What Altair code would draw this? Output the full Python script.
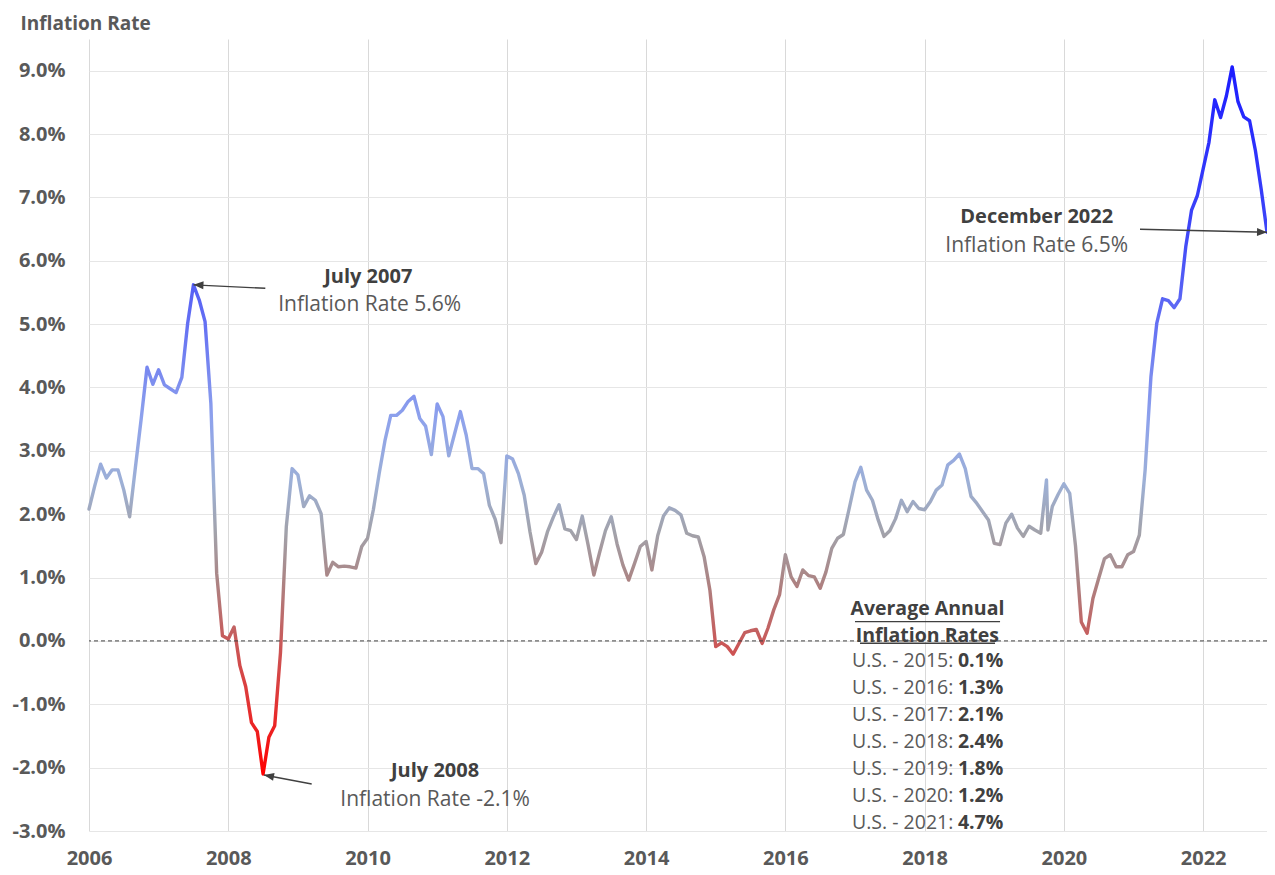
import altair as alt
import pandas as pd

# ---------------- data (monthly inflation rate, %) ----------------
years = list(range(2006, 2023))
rate_2006 = [2.08, 2.45, 2.79, 2.57, 2.70, 2.70, 2.38, 1.96, 2.74, 3.51, 4.32, 4.05]
rate_2007 = [4.28, 4.04, 3.98, 3.92, 4.16, 5.01, 5.62, 5.38, 5.04, 3.75, 1.07, 0.08]
rate_2008 = [0.03, 0.22, -0.39, -0.72, -1.29, -1.43, -2.10, -1.52, -1.34, -0.18, 1.80, 2.72]
rate_2009 = [2.62, 2.12, 2.29, 2.22, 2.01, 1.04, 1.24, 1.17, 1.18, 1.17, 1.15, 1.49]
rate_2010 = [1.62, 2.07, 2.64, 3.16, 3.56, 3.56, 3.64, 3.78, 3.86, 3.51, 3.39, 2.94]
rate_2011 = [3.74, 3.54, 2.92, 3.27, 3.62, 3.25, 2.72, 2.72, 2.64, 2.14, 1.92, 1.55]
rate_2012 = [2.92, 2.87, 2.64, 2.30, 1.72, 1.22, 1.40, 1.72, 1.95, 2.15, 1.77, 1.74]
rate_2013 = [1.60, 1.97, 1.52, 1.04, 1.40, 1.74, 1.96, 1.53, 1.20, 0.96, 1.22, 1.49]
rate_2014 = [1.57, 1.12, 1.66, 1.97, 2.10, 2.06, 1.99, 1.70, 1.66, 1.64, 1.33, 0.80]
rate_2015 = [-0.09, -0.03, -0.09, -0.21, -0.04, 0.13, 0.16, 0.18, -0.04, 0.20, 0.49, 0.73]
rate_2016 = [1.36, 1.01, 0.86, 1.12, 1.03, 1.01, 0.83, 1.09, 1.46, 1.62, 1.68, 2.09]
rate_2017 = [2.51, 2.74, 2.38, 2.22, 1.91, 1.65, 1.74, 1.93, 2.22, 2.04, 2.20, 2.09]
rate_2018 = [2.07, 2.20, 2.38, 2.46, 2.78, 2.85, 2.95, 2.72, 2.28, 2.17, 2.04, 1.91]
rate_2019 = [1.54, 1.52, 1.86, 2.00, 1.78, 1.65, 1.81, 1.75, 1.70, 2.54, 2.12, 2.31]
rate_2020 = [2.48, 2.33, 1.50, 0.30, 0.12, 0.67, 0.99, 1.30, 1.36, 1.17, 1.17, 1.36]
rate_2021 = [1.41, 1.67, 2.70, 4.17, 5.01, 5.40, 5.37, 5.26, 5.40, 6.22, 6.80, 7.03]
rate_2022 = [7.45, 7.87, 8.54, 8.26, 8.60, 9.06, 8.51, 8.27, 8.21, 7.74, 7.13, 6.45]
all_rates = [rate_2006, rate_2007, rate_2008, rate_2009, rate_2010, rate_2011,
             rate_2012, rate_2013, rate_2014, rate_2015, rate_2016, rate_2017,
             rate_2018, rate_2019, rate_2020, rate_2021, rate_2022]
# extra reading drawn just after the October 2019 spike
extra_point_month = (2019, 9.25)
extra_point_value = 1.75

avg_years = [2015, 2016, 2017, 2018, 2019, 2020, 2021]
avg_rates = ["0.1%", "1.3%", "2.1%", "2.4%", "1.8%", "1.2%", "4.7%"]

# ---------------- build table ----------------
rows = []
for y, vals in zip(years, all_rates):
    for m, v in enumerate(vals):
        rows.append({"t": y + m / 12.0, "v": v})
rows.append({"t": extra_point_month[0] + extra_point_month[1] / 12.0, "v": extra_point_value})
df = pd.DataFrame(rows).sort_values("t").reset_index(drop=True)

x_end = 2022 + 11 / 12.0
FONT = "Open Sans"
DARK = "#404040"
AXIS_TXT = "#595959"

# value-based gradient for the line
vmin, vmax = df["v"].min(), df["v"].max()
stop_values = [-2.1, -1.0, 0.0, 1.0, 1.7, 2.5, 3.5, 5.0, 6.5, 9.06]
stop_colors = ["#FF0000", "#E23434", "#C85A5A", "#AA8686", "#A2A2AA",
               "#9DB0D6", "#8EA2EC", "#6470F3", "#3E46F8", "#1C1CFF"]
stops = [alt.GradientStop(color=c, offset=float(min(1, max(0, (s - vmin) / (vmax - vmin)))))
         for s, c in zip(stop_values, stop_colors)]
grad = alt.LinearGradient(gradient="linear", stops=stops, x1=0, x2=0, y1=1, y2=0)

x_enc = alt.X("t:Q",
              scale=alt.Scale(domain=[2006, x_end], nice=False, zero=False),
              axis=alt.Axis(values=list(range(2006, 2023, 2)), format="d", title=None,
                            labelFont=FONT, labelFontWeight="bold", labelFontSize=20,
                            labelColor=AXIS_TXT, labelPadding=17, ticks=False, tickSize=0,
                            domain=False, grid=True, gridColor="#D9D9D9", gridWidth=1,
                            labelFlush=False))
y_enc = alt.Y("v:Q",
              scale=alt.Scale(domain=[-3, 9.5], nice=False, zero=False),
              axis=alt.Axis(values=list(range(-3, 10)),
                            labelExpr="(datum.value < 0 ? '-' : '') + format(abs(datum.value), '.1f') + '%'",
                            title="Inflation Rate", titleAngle=0, titleAlign="left",
                            titleBaseline="alphabetic", titleX=-69, titleY=-10,
                            titleFont=FONT, titleFontWeight="bold", titleFontSize=19,
                            titleColor=AXIS_TXT,
                            labelFont=FONT, labelFontWeight="bold", labelFontSize=20,
                            labelColor=AXIS_TXT, labelPadding=24, ticks=False, tickSize=0,
                            domain=False, grid=True, gridColor="#E6E6E6", gridWidth=1))

line = alt.Chart(df).mark_line(strokeWidth=3.4, strokeJoin="round", strokeCap="round",
                               color=grad).encode(x=x_enc, y=y_enc)

zero_rule = alt.Chart(pd.DataFrame({"v": [0.0]})).mark_rule(
    color=DARK, strokeWidth=1, strokeDash=[4, 3]).encode(y="v:Q")

# arrows (tail -> tip)
arrows = pd.DataFrame({
    "t": [2008.532, 2009.198, 2021.093],
    "v": [5.565, -2.258, 6.497],
    "t2": [2007.5, 2008.513, x_end],
    "v2": [5.62, -2.116, 6.45],
})
arrow_lines = alt.Chart(arrows).mark_rule(color=DARK, strokeWidth=1.4).encode(
    x="t:Q", y="v:Q", x2="t2:Q", y2="v2:Q")

LEFT_HEAD = "M0,0L2,-0.8L2,0.8Z"
RIGHT_HEAD = "M0,0L-2,-0.8L-2,0.8Z"
head_specs = [(LEFT_HEAD, 2.6, 0), (LEFT_HEAD, 10.7, 1), (RIGHT_HEAD, 1.0, 2)]
heads = []
for shape, ang, k in head_specs:
    hd = pd.DataFrame({"t": [arrows["t2"][k]], "v": [arrows["v2"][k]]})
    heads.append(alt.Chart(hd).mark_point(shape=shape, angle=ang, size=100, filled=True,
                                          color=DARK, opacity=1, strokeWidth=0)
                 .encode(x="t:Q", y="v:Q"))

# annotation texts
bold_notes = pd.DataFrame({
    "t": [2010.01, 2010.97, 2019.61],
    "v": [5.654, -2.143, 6.591],
    "label": ["July 2007", "July 2008", "December 2022"],
})
reg_notes = pd.DataFrame({
    "t": [2010.03, 2010.97, 2019.61],
    "v": [5.207, -2.605, 6.143],
    "label": ["Inflation Rate 5.6%", "Inflation Rate -2.1%", "Inflation Rate 6.5%"],
})
bold_text = alt.Chart(bold_notes).mark_text(
    font=FONT, fontSize=20, fontWeight="bold", color=DARK, align="center",
    baseline="alphabetic").encode(x="t:Q", y="v:Q", text="label:N")
reg_text = alt.Chart(reg_notes).mark_text(
    font=FONT, fontSize=21, color=AXIS_TXT, align="center",
    baseline="alphabetic").encode(x="t:Q", y="v:Q", text="label:N")

# average annual block
head_block = pd.DataFrame({"t": [2018.04, 2018.04], "v": [0.409, -0.012],
                           "label": ["Average Annual", "Inflation Rates"]})
head_text = alt.Chart(head_block).mark_text(
    font=FONT, fontSize=19.5, fontWeight="bold", color=DARK, align="center",
    baseline="alphabetic").encode(x="t:Q", y="v:Q", text="label:N")
underlines = pd.DataFrame({"t": [2017.0, 2017.072], "t2": [2019.083, 2019.011],
                           "v": [0.303, -0.037]})
underline_marks = alt.Chart(underlines).mark_rule(color=DARK, strokeWidth=1.3).encode(
    x="t:Q", x2="t2:Q", y="v:Q")

row_step = 0.426
block = pd.DataFrame({
    "t": [2019.13] * len(avg_years),
    "v": [-0.416 - row_step * i for i in range(len(avg_years))],
    "reg": [f"U.S. - {y}:" for y in avg_years],
    "bold": avg_rates,
})
block_reg = alt.Chart(block).mark_text(
    font=FONT, fontSize=19.5, color=AXIS_TXT, align="right", baseline="alphabetic",
    dx=-50).encode(x="t:Q", y="v:Q", text="reg:N")
block_bold = alt.Chart(block).mark_text(
    font=FONT, fontSize=19.5, fontWeight="bold", color=DARK, align="right",
    baseline="alphabetic").encode(x="t:Q", y="v:Q", text="bold:N")

chart = alt.layer(
    line, zero_rule, arrow_lines, *heads, bold_text, reg_text,
    head_text, underline_marks, block_reg, block_bold
).properties(
    width=1178, height=792,
    autosize=alt.AutoSizeParams(type="none"),
    padding={"left": 81, "top": 31, "right": 0, "bottom": 41},
    background="white",
).configure_view(stroke=None)

chart.save("out.html", embed_options={"renderer": "svg", "actions": False})
